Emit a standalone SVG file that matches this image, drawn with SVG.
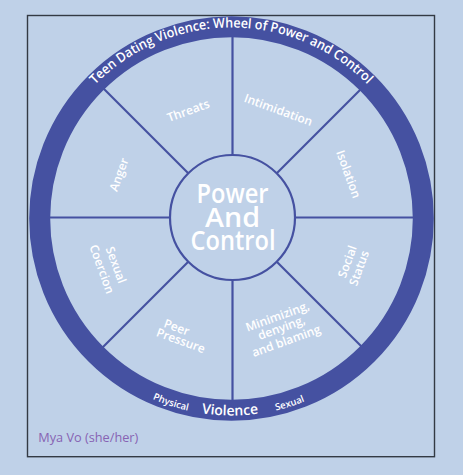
<svg xmlns="http://www.w3.org/2000/svg" width="463" height="475" viewBox="0 0 463 475">
<style>
.lbl{font-family:"Open Sans","Noto Sans",sans-serif;font-size:12px;font-weight:600;fill:#ffffff;text-anchor:middle}
.spk{stroke:#4551a1;stroke-width:2.2;fill:none}
.ring{font-family:"Open Sans","Noto Sans",sans-serif;fill:#ffffff;font-weight:600}
.big{font-family:"Open Sans","Noto Sans",sans-serif;font-size:27px;font-weight:600;fill:#ffffff;text-anchor:middle}
</style>
<defs>
<path id="topArc" d="M94.1 85.8 A191 191 0 0 1 368.9 85.8"/>
<path id="botArc" d="M60.9 317 A197 197 0 0 0 402.1 317"/>
</defs>
<rect x="0" y="0" width="463" height="475" fill="#bfd1e8"/>
<rect x="27.5" y="15.5" width="407" height="441.2" fill="#bfd1e8" stroke="#333a44" stroke-width="1.4"/>
<g id="connectors">
<line class="spk" x1="232.5" y1="217.5" x2="232.5" y2="32"/>
<line class="spk" x1="232.5" y1="217.5" x2="232.5" y2="406"/>
<line class="spk" x1="232.5" y1="217.5" x2="46" y2="217.5"/>
<line class="spk" x1="232.5" y1="217.5" x2="418" y2="217.5"/>
<line class="spk" x1="232.5" y1="217.5" x2="100" y2="85"/>
<line class="spk" x1="232.5" y1="217.5" x2="365" y2="85"/>
<line class="spk" x1="232.5" y1="217.5" x2="100" y2="350"/>
<line class="spk" x1="232.5" y1="217.5" x2="365" y2="350"/>
</g>
<g id="ring">
<circle cx="231.5" cy="218.5" r="191.8" fill="none" stroke="#4551a1" stroke-width="21"/>
<text class="ring" font-size="13.5"><textPath href="#topArc" startOffset="1.5" textLength="303" lengthAdjust="spacingAndGlyphs">Teen Dating Violence: Wheel of Power and Control</textPath></text>
<text class="ring" font-size="9.5" text-anchor="middle"><textPath href="#botArc" startOffset="143.7">Physical</textPath></text>
<text class="ring" font-size="14" font-weight="600" text-anchor="middle"><textPath href="#botArc" startOffset="204.6">Violence</textPath></text>
<text class="ring" font-size="9.5" text-anchor="middle"><textPath href="#botArc" startOffset="266.1">Sexual</textPath></text>
</g>
<g id="center">
<circle cx="232.5" cy="217.5" r="62.5" fill="#bfd1e8" stroke="#4551a1" stroke-width="2.2"/>
<text class="big" x="232.5" y="203" textLength="72" lengthAdjust="spacingAndGlyphs">Power</text>
<text class="big" x="232.5" y="226.5" textLength="55" lengthAdjust="spacingAndGlyphs">And</text>
<text class="big" x="233" y="250" textLength="85" lengthAdjust="spacingAndGlyphs">Control</text>
</g>
<g id="threats"><text class="lbl" transform="translate(188.3 110.8) rotate(-20)" y="4">Threats</text></g>
<g id="intimidation"><text class="lbl" transform="translate(278.3 110) rotate(20)" y="4">Intimidation</text></g>
<g id="isolation"><text class="lbl" transform="translate(348.3 174.2) rotate(70)" y="4">Isolation</text></g>
<g id="anger"><text class="lbl" transform="translate(120 175) rotate(-70)" y="3">Anger</text></g>
<g id="sexual-coercion">
<text class="lbl" transform="translate(115.8 265) rotate(70)" y="4">Sexual</text>
<text class="lbl" transform="translate(101.7 269.2) rotate(70)" y="4">Coercion</text>
</g>
<g id="peer-pressure">
<text class="lbl" transform="translate(176.7 327.5) rotate(20)" y="4">Peer</text>
<text class="lbl" transform="translate(180.8 340.8) rotate(20)" y="4">Pressure</text>
</g>
<g id="minimizing">
<text class="lbl" transform="translate(277.8 317.5) rotate(-20)" y="3">Minimizing,</text>
<text class="lbl" transform="translate(282.2 329.7) rotate(-20)" y="2">denying,</text>
<text class="lbl" transform="translate(286.6 341.9) rotate(-20)" y="3">and blaming</text>
</g>
<g id="social-status">
<text class="lbl" transform="translate(347.5 261.7) rotate(-70)" y="4">Social</text>
<text class="lbl" transform="translate(359.2 268.3) rotate(-70)" y="4">Status</text>
</g>
<text x="38.3" y="441.5" font-family="'Open Sans','Noto Sans',sans-serif" font-size="12" fill="#8763b3" textLength="100" lengthAdjust="spacingAndGlyphs">Mya Vo (she/her)</text>
</svg>
